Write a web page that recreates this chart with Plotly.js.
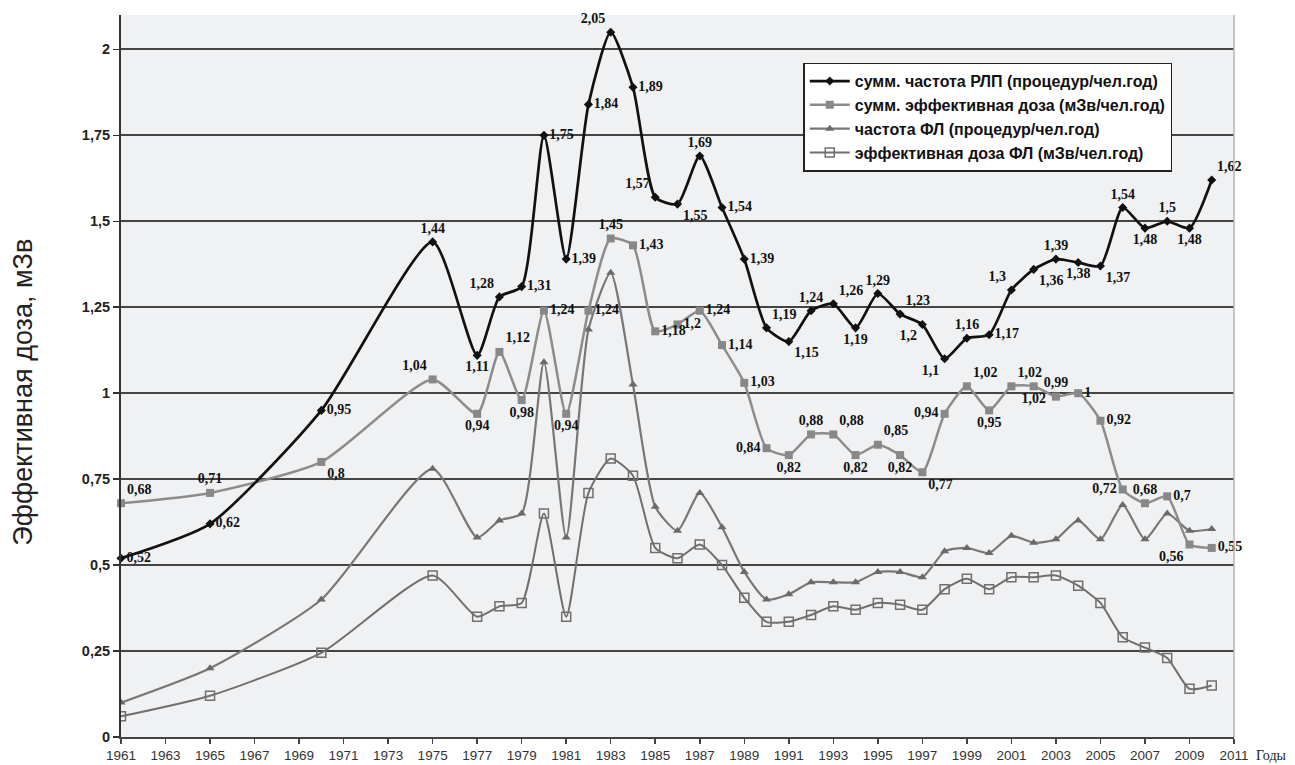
<!DOCTYPE html>
<html>
<head>
<meta charset="utf-8">
<script src="https://cdn.plot.ly/plotly-3.0.1.min.js"></script>
<style>html,body{margin:0;padding:0;background:#fff;}#chart{width:1295px;height:765px;}</style>
</head>
<body>
<div id="chart"></div>
<script>
// Data
var years = [1961,1965,1970,1975,1977,1978,1979,1980,1981,1982,1983,1984,1985,1986,1987,1988,1989,1990,1991,1992,1993,1994,1995,1996,1997,1998,1999,2000,2001,2002,2003,2004,2005,2006,2007,2008,2009,2010];
var freqRLP = [0.52,0.62,0.95,1.44,1.11,1.28,1.31,1.75,1.39,1.84,2.05,1.89,1.57,1.55,1.69,1.54,1.39,1.19,1.15,1.24,1.26,1.19,1.29,1.23,1.2,1.1,1.16,1.17,1.3,1.36,1.39,1.38,1.37,1.54,1.48,1.5,1.48,1.62];
var doseSum = [0.68,0.71,0.8,1.04,0.94,1.12,0.98,1.24,0.94,1.24,1.45,1.43,1.18,1.2,1.24,1.14,1.03,0.84,0.82,0.88,0.88,0.82,0.85,0.82,0.77,0.94,1.02,0.95,1.02,1.02,0.99,1.0,0.92,0.72,0.68,0.7,0.56,0.55];
var freqFL = [0.10,0.20,0.40,0.78,0.58,0.63,0.65,1.09,0.58,1.185,1.35,1.025,0.67,0.60,0.71,0.61,0.48,0.40,0.415,0.45,0.45,0.45,0.48,0.48,0.465,0.54,0.55,0.535,0.585,0.565,0.575,0.63,0.575,0.675,0.575,0.65,0.60,0.605];
var doseFL = [0.06,0.12,0.245,0.47,0.35,0.38,0.39,0.65,0.35,0.71,0.81,0.76,0.55,0.52,0.56,0.50,0.405,0.335,0.335,0.355,0.38,0.37,0.39,0.385,0.37,0.43,0.46,0.43,0.465,0.465,0.47,0.44,0.39,0.29,0.26,0.23,0.14,0.15];
var seriesNames = ["сумм. частота РЛП (процедур/чел.год)","сумм. эффективная доза (мЗв/чел.год)","частота ФЛ (процедур/чел.год)","эффективная доза ФЛ (мЗв/чел.год)"];
var yTicks = [0,0.25,0.5,0.75,1,1.25,1.5,1.75,2];
var yTickText = ["0","0,25","0,5","0,75","1","1,25","1,5","1,75","2"];
var xTicks = [1961,1963,1965,1967,1969,1971,1973,1975,1977,1979,1981,1983,1985,1987,1989,1991,1993,1995,1997,1999,2001,2003,2005,2007,2009,2011];
var yTitle = "Эффективная доза, мЗв";
var xTitle = "Годы";

// label placement (style)
var posRLP = ["middle right","middle right","middle right","top center","bottom center","top left","middle right","middle right","middle right","middle right","top left","middle right","top left","bottom right","top center","middle right","middle right","top right","bottom right","top center","top right","bottom center","top center","top right","bottom left","bottom left","top center","middle right","top left","bottom right","top center","bottom center","bottom right","top center","bottom center","top center","bottom center","top right"];
var posDose = ["top right","top center","bottom right","top left","bottom center","top right","bottom center","middle right","bottom center","middle right","top center","middle right","middle right","middle right","middle right","middle right","middle right","middle left","bottom center","top center","top right","bottom center","top right","bottom center","bottom right","middle left","top right","bottom center","top right","bottom center","top center","middle right","middle right","middle left","top center","middle right","bottom left","middle right"];

function fmt(v){ return String(v).replace('.', ','); }

var labelFont = {family:"Liberation Serif, Times New Roman, serif", size:14, color:"#111", weight:"bold"};

var traces = [
  {x:years, y:doseFL, name:seriesNames[3], legendrank:4, legendgroup:"d", mode:"lines+markers", type:"scatter",
   line:{color:"#6f6f6f", width:2, shape:"spline", smoothing:0.6},
   marker:{symbol:"square-open", size:9, color:"#6f6f6f", line:{width:1.5}}},
  {x:years, y:freqFL, name:seriesNames[2], legendrank:3, legendgroup:"c", mode:"lines+markers", type:"scatter",
   line:{color:"#777777", width:2.2, shape:"spline", smoothing:0.6},
   marker:{symbol:"triangle-up", size:8, color:"#6a6a6a"}},
  {x:years, y:doseSum, name:seriesNames[1], legendrank:2, legendgroup:"b", mode:"lines+markers+text", type:"scatter",
   text:doseSum.map(fmt), textposition:posDose, textfont:labelFont, cliponaxis:false,
   line:{color:"#8c8c8c", width:2.5, shape:"spline", smoothing:0.6},
   marker:{symbol:"square", size:8, color:"#888888"}},
  {x:years, y:freqRLP, name:seriesNames[0], legendrank:1, legendgroup:"a", mode:"lines+markers+text", type:"scatter",
   text:freqRLP.map(fmt), textposition:posRLP, textfont:labelFont, cliponaxis:false,
   line:{color:"#111111", width:2.7, shape:"spline", smoothing:0.6},
   marker:{symbol:"diamond", size:7, color:"#111111"}}
];

var layout = {
  width:1295, height:765,
  margin:{l:121, r:61, t:15, b:28},
  paper_bgcolor:"#ffffff",
  plot_bgcolor:"#f0f1f3",
  separators:", ",
  showlegend:true,
  legend:{x:0.613, y:0.934, xanchor:"left", yanchor:"top", bgcolor:"#ffffff", bordercolor:"#222", borderwidth:1.5,
    font:{family:"Liberation Sans, Arial, sans-serif", size:16, color:"#111", weight:"bold"},
    traceorder:"grouped", tracegroupgap:0, itemwidth:40},
  xaxis:{range:[1961,2011], tickmode:"array", tickvals:xTicks, ticktext:xTicks.map(String),
    showgrid:false, zeroline:false, showline:true, linecolor:"#444", linewidth:1.5,
    ticks:"outside", ticklen:5, tickcolor:"#444", tickwidth:1.5,
    tickfont:{family:"Liberation Sans, Arial, sans-serif", size:13.5, color:"#333"}},
  yaxis:{range:[0,2.1], tickmode:"array", tickvals:yTicks, ticktext:yTickText,
    showgrid:true, gridcolor:"#444444", gridwidth:2, zeroline:false,
    showline:true, linecolor:"#333", linewidth:2,
    ticks:"outside", ticklen:6, tickcolor:"#333", tickwidth:1.5,
    tickfont:{family:"Liberation Sans, Arial, sans-serif", size:14.5, color:"#222", weight:"bold"}},
  shapes:[{type:"line", xref:"paper", yref:"paper", x0:1, x1:1, y0:0, y1:1, line:{color:"#b5b5b5", width:1.5}}],
  annotations:[
    {text:yTitle, xref:"paper", yref:"paper", x:-0.088, y:0.477, xanchor:"center", yanchor:"middle", textangle:-90, showarrow:false,
     font:{family:"Liberation Sans, Arial, sans-serif", size:27, color:"#222"}},
    {text:xTitle, xref:"paper", yref:"paper", x:1.018, y:-0.026, xanchor:"left", yanchor:"middle", showarrow:false,
     font:{family:"Liberation Serif, Times New Roman, serif", size:14, color:"#222"}}
  ]
};

Plotly.newPlot("chart", traces, layout, {displayModeBar:false, staticPlot:true});
</script>
</body>
</html>
